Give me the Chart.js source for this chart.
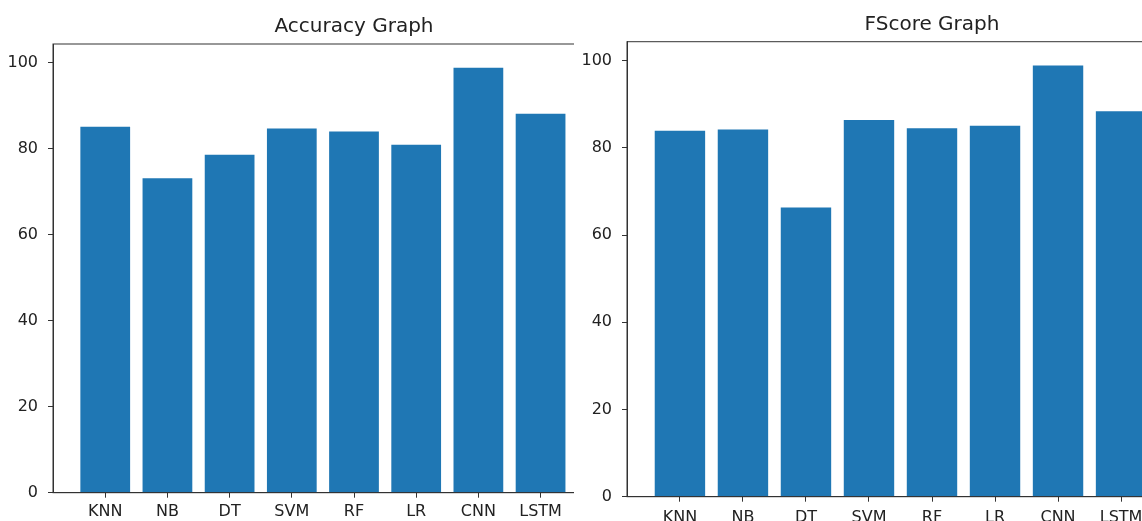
<!DOCTYPE html>
<html>
<head>
<meta charset="utf-8">
<script src="https://cdn.jsdelivr.net/npm/chart.js@4.4.1/dist/chart.umd.min.js"></script>
<style>
  html, body { margin: 0; padding: 0; background: #fff; overflow: hidden; }
  #wrap { position: relative; width: 1142px; height: 521px; overflow: hidden; background: #fff; }
  #leftBox { position: absolute; left: 0; top: 0; width: 574px; height: 521px; overflow: hidden; }
  #rightBox { position: absolute; left: 574px; top: 0; width: 568px; height: 521px; overflow: hidden; }
  canvas { position: absolute; left: 0; top: 0; }
</style>
</head>
<body>
<div id="wrap">
  <div id="leftBox"><canvas id="acc" width="708" height="521"></canvas></div>
  <div id="rightBox"><canvas id="fs" width="716" height="521"></canvas></div>
</div>
<script>
const categories = ['KNN', 'NB', 'DT', 'SVM', 'RF', 'LR', 'CNN', 'LSTM'];
const accuracy = [85.1, 73.1, 78.6, 84.7, 84.0, 80.9, 98.8, 88.1];
const fscore = [83.9, 84.2, 66.3, 86.4, 84.5, 85.1, 98.9, 88.4];
const yTickValues = [0, 20, 40, 60, 80, 100];
const titles = ['Accuracy Graph', 'FScore Graph'];

const FONT = "'DejaVu Sans', sans-serif";
Chart.defaults.font.family = FONT;
Chart.defaults.color = '#222';

const BAR = '#1f77b4';
const AXIS = '#333';

const framePlugin = {
  id: 'frame',
  afterDraw(chart, args, opts) {
    const a = chart.chartArea, ctx = chart.ctx;
    ctx.save();
    ctx.strokeStyle = AXIS;
    ctx.lineWidth = 1;
    ctx.strokeRect(a.left, a.top, a.right - a.left, a.bottom - a.top);
    ctx.fillStyle = '#222';
    ctx.font = '20px ' + FONT;
    ctx.textAlign = 'center';
    ctx.textBaseline = 'alphabetic';
    ctx.fillText(opts.text, (a.left + a.right) / 2, opts.baseline);
    ctx.restore();
  }
};

function makeChart(id, title, values, o) {
  const pts = values.map((v, i) => ({ x: i, y: v }));
  return new Chart(document.getElementById(id), {
    type: 'bar',
    data: {
      datasets: [{
        data: pts,
        backgroundColor: BAR,
        borderWidth: 0,
        categoryPercentage: 1.0,
        barPercentage: 0.8
      }]
    },
    options: {
      responsive: false,
      animation: false,
      devicePixelRatio: 1,
      layout: { padding: { left: 0, right: 53, top: o.top, bottom: 0 } },
      plugins: {
        legend: { display: false },
        tooltip: { enabled: false },
        title: { display: false },
        frame: { text: title, baseline: o.titleBaseline }
      },
      scales: {
        x: {
          type: 'linear',
          min: -0.84,
          max: 8.84,
          offset: false,
          afterBuildTicks(s) { s.ticks = categories.map((c, i) => ({ value: i })); },
          afterFit(s) { s.height = o.xHeight; },
          ticks: {
            autoSkip: false,
            maxRotation: 0,
            padding: o.xPad,
            font: { size: 16 },
            color: '#222',
            callback: (v) => categories[v] ?? ''
          },
          grid: { offset: false, drawOnChartArea: false, drawTicks: true, tickLength: 5, color: AXIS, tickWidth: 1 },
          border: { display: true, color: AXIS, width: 1 }
        },
        y: {
          min: 0,
          max: 104.35,
          afterBuildTicks(s) { s.ticks = yTickValues.map(v => ({ value: v })); },
          afterFit(s) { s.width = 53; },
          ticks: {
            padding: 10,
            font: { size: 16 },
            color: '#222'
          },
          grid: { drawOnChartArea: false, drawTicks: true, tickLength: 5, color: AXIS, tickWidth: 1 },
          border: { display: true, color: AXIS, width: 1 }
        }
      }
    },
    plugins: [framePlugin]
  });
}

makeChart('acc', titles[0], accuracy, { top: 44, titleBaseline: 32, xHeight: 28.3, xPad: 5 });
makeChart('fs', titles[1], fscore, { top: 41.7, titleBaseline: 29.5, xHeight: 24.3, xPad: 6.5 });
</script>
</body>
</html>
